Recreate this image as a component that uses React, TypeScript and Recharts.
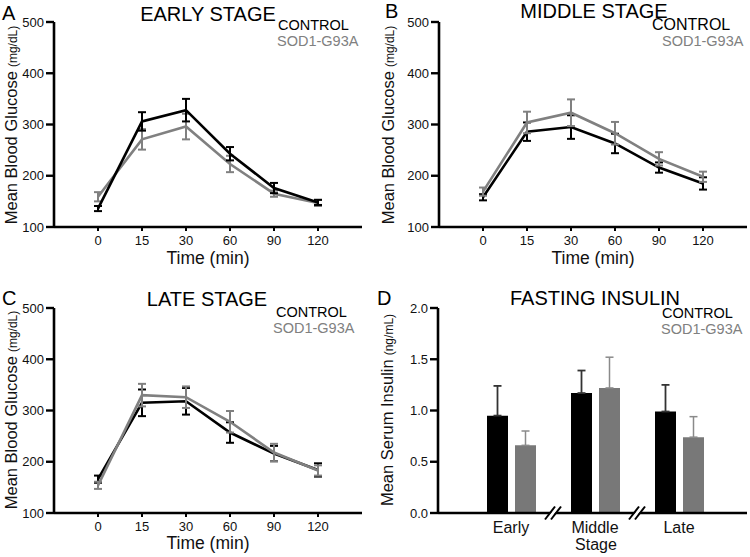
import React from "react";
import { LineChart, Line, XAxis, YAxis, ErrorBar, BarChart, Bar } from "recharts";

const timeLabels = ["0", "15", "30", "60", "90", "120"];

const earlyControl = [136, 306, 328, 243, 176, 148];
const earlyControlErr = [5, 18, 22, 13, 10, 5];
const earlySod = [159, 271, 296, 223, 165, 147];
const earlySodErr = [9, 20, 25, 16, 6, 6];

const middleControl = [158, 286, 295, 263, 216, 185];
const middleControlErr = [6, 18, 23, 19, 10, 12];
const middleSod = [169, 304, 323, 283, 233, 198];
const middleSodErr = [8, 21, 26, 22, 13, 10];

const lateControl = [166, 315, 318, 257, 216, 184];
const lateControlErr = [7, 26, 26, 20, 15, 13];
const lateSod = [154, 330, 326, 278, 218, 183];
const lateSodErr = [7, 22, 21, 21, 17, 10];

const glucoseTicks = [100, 200, 300, 400, 500];

const stages = ["Early", "Middle", "Late"];
const insulinControl = [0.95, 1.17, 0.99];
const insulinControlErr = [0.29, 0.22, 0.26];
const insulinSod = [0.66, 1.22, 0.74];
const insulinSodErr = [0.14, 0.3, 0.2];
const insulinTicks = [0, 0.5, 1.0, 1.5, 2.0];

const FONT = "'Liberation Sans', Arial, Helvetica, sans-serif";
const BLACK = "#000000";
const GRAY = "#808080";

function rows(c: number[], ce: number[], s: number[], se: number[]) {
  return timeLabels.map((t, i) => ({ time: t, control: c[i], controlErr: ce[i], sod: s[i], sodErr: se[i] }));
}

const insulinRows = stages.map((st, i) => ({
  stage: st,
  control: insulinControl[i],
  controlErr: [0, insulinControlErr[i]],
  sod: insulinSod[i],
  sodErr: [0, insulinSodErr[i]],
}));

type GlucoseProps = {
  data: any[];
  left: number;
  top: number;
  height: number;
  marginTop: number;
  yWidth: number;
  marginRight: number;
  sodOnTop: boolean;
};

function GlucoseChart(p: GlucoseProps) {
  const controlLine = (
    <Line
      key="c"
      type="linear"
      dataKey="control"
      stroke={BLACK}
      strokeWidth={2.6}
      dot={false}
      isAnimationActive={false}
    >
      <ErrorBar dataKey="controlErr" width={4} strokeWidth={2} stroke={BLACK} isAnimationActive={false} />
    </Line>
  );
  const sodLine = (
    <Line
      key="s"
      type="linear"
      dataKey="sod"
      stroke={GRAY}
      strokeWidth={2.6}
      dot={false}
      isAnimationActive={false}
    >
      <ErrorBar dataKey="sodErr" width={4} strokeWidth={2} stroke={GRAY} isAnimationActive={false} />
    </Line>
  );
  return (
    <div style={{ position: "absolute", left: p.left, top: p.top }}>
      <LineChart
        width={375}
        height={p.height}
        data={p.data}
        margin={{ top: p.marginTop, right: p.marginRight, bottom: p.height - p.marginTop - 205 - 30, left: 0 }}
      >
        <XAxis
          dataKey="time"
          type="category"
          padding={{ left: 44, right: 44 }}
          height={30}
          axisLine={{ stroke: BLACK, strokeWidth: 2.6 }}
          tickLine={{ stroke: BLACK, strokeWidth: 2 }}
          tickSize={4}
          tickMargin={5}
          tick={{ fill: "#111", fontSize: 13, fontFamily: FONT }}
          interval={0}
        />
        <YAxis
          type="number"
          domain={[100, 500]}
          ticks={glucoseTicks}
          width={p.yWidth}
          axisLine={{ stroke: BLACK, strokeWidth: 2.6 }}
          tickLine={{ stroke: BLACK, strokeWidth: 2.4 }}
          tickSize={8}
          tickMargin={2}
          tick={{ fill: "#111", fontSize: 13, fontFamily: FONT }}
          interval={0}
        />
        {p.sodOnTop ? [controlLine, sodLine] : [sodLine, controlLine]}
      </LineChart>
    </div>
  );
}

function StageTick(props: any) {
  const { x, y, payload, index } = props;
  const off = payload && typeof payload.offset === "number" && payload.offset > 0 ? payload.offset : 42;
  const bx = x - off;
  return (
    <g>
      {index > 0 && (
        <g>
          <polygon points={`${bx - 7},${y + 6} ${bx + 3},${y - 6} ${bx + 7},${y - 6} ${bx - 3},${y + 6}`} fill="#fff" />
          <line x1={bx - 8} y1={y + 6.5} x2={bx + 2} y2={y - 6.5} stroke={BLACK} strokeWidth={2} />
          <line x1={bx - 2} y1={y + 6.5} x2={bx + 8} y2={y - 6.5} stroke={BLACK} strokeWidth={2} />
        </g>
      )}
      <text x={x} y={y + 20} textAnchor="middle" fill="#111" fontSize={16} fontFamily={FONT}>
        {payload.value}
      </text>
    </g>
  );
}

function InsulinChart() {
  return (
    <div style={{ position: "absolute", left: 375, top: 280 }}>
      <BarChart
        width={375}
        height={277}
        data={insulinRows}
        margin={{ top: 28, right: 3, bottom: 277 - 28 - 205 - 30, left: 0 }}
        barSize={21}
        barGap={7}
      >
        <XAxis
          dataKey="stage"
          type="category"
          padding={{ left: 31, right: 26 }}
          height={30}
          axisLine={{ stroke: BLACK, strokeWidth: 2.6 }}
          tickLine={false}
          tickSize={0}
          tickMargin={0}
          tick={<StageTick />}
          interval={0}
        />
        <YAxis
          type="number"
          domain={[0, 2]}
          ticks={insulinTicks}
          tickFormatter={(v: number) => v.toFixed(1)}
          width={63}
          axisLine={{ stroke: BLACK, strokeWidth: 2.6 }}
          tickLine={{ stroke: BLACK, strokeWidth: 2.4 }}
          tickSize={8}
          tickMargin={2}
          tick={{ fill: "#111", fontSize: 13, fontFamily: FONT }}
          interval={0}
        />
        <Bar dataKey="control" fill={BLACK} isAnimationActive={false}>
          <ErrorBar dataKey="controlErr" width={4} strokeWidth={1.8} stroke="#333" isAnimationActive={false} />
        </Bar>
        <Bar dataKey="sod" fill="#787878" isAnimationActive={false}>
          <ErrorBar dataKey="sodErr" width={4} strokeWidth={1.5} stroke="#8a8a8a" isAnimationActive={false} />
        </Bar>
      </BarChart>
    </div>
  );
}

function YLabel(props: { x: number; y: number; main: string; unit: string }) {
  return (
    <text
      x={props.x}
      y={props.y}
      transform={`rotate(-90 ${props.x} ${props.y})`}
      textAnchor="middle"
      fontFamily={FONT}
      fill="#111"
    >
      <tspan fontSize={16.5}>{props.main}</tspan>
      <tspan fontSize={12} dx={4}>{props.unit}</tspan>
    </text>
  );
}

function Overlay() {
  const t = { fontFamily: FONT } as const;
  return (
    <svg width={750} height={557} style={{ position: "absolute", left: 0, top: 0, pointerEvents: "none" }}>
      {/* Panel A */}
      <text x={2} y={20} fontSize={20} fill="#000" {...t}>A</text>
      <text x={208} y={21} fontSize={20} textAnchor="middle" fill="#000" {...t}>EARLY STAGE</text>
      <text x={278} y={29.5} fontSize={14.5} fill="#000" {...t}>CONTROL</text>
      <text x={277} y={45.5} fontSize={14.5} fill={GRAY} {...t}>SOD1-G93A</text>
      <YLabel x={17} y={125} main="Mean Blood Glucose" unit="(mg/dL)" />
      <text x={208} y={264} fontSize={17.5} textAnchor="middle" fill="#111" {...t}>Time (min)</text>

      {/* Panel B */}
      <text x={385} y={18} fontSize={20} fill="#000" {...t}>B</text>
      <text x={594} y={18} fontSize={20} textAnchor="middle" fill="#000" {...t}>MIDDLE STAGE</text>
      <text x={652} y={30} fontSize={16} fill="#000" {...t}>CONTROL</text>
      <text x={662} y={46} fontSize={14.5} fill={GRAY} {...t}>SOD1-G93A</text>
      <YLabel x={394} y={125} main="Mean Blood Glucose" unit="(mg/dL)" />
      <text x={593} y={264} fontSize={17.5} textAnchor="middle" fill="#111" {...t}>Time (min)</text>

      {/* Panel C */}
      <text x={2} y={305} fontSize={20} fill="#000" {...t}>C</text>
      <text x={207} y={306} fontSize={20} textAnchor="middle" fill="#000" {...t}>LATE STAGE</text>
      <text x={276} y={317} fontSize={14.5} fill="#000" {...t}>CONTROL</text>
      <text x={273} y={333} fontSize={14.5} fill={GRAY} {...t}>SOD1-G93A</text>
      <YLabel x={17} y={410} main="Mean Blood Glucose" unit="(mg/dL)" />
      <text x={208} y={549} fontSize={17.5} textAnchor="middle" fill="#111" {...t}>Time (min)</text>

      {/* Panel D */}
      <text x={377} y={305} fontSize={20} fill="#000" {...t}>D</text>
      <text x={595} y={305} fontSize={20} textAnchor="middle" fill="#000" {...t}>FASTING INSULIN</text>
      <text x={662} y={318} fontSize={14.5} fill="#000" {...t}>CONTROL</text>
      <text x={661} y={334} fontSize={14.5} fill={GRAY} {...t}>SOD1-G93A</text>
      <YLabel x={393} y={410} main="Mean Serum Insulin" unit="(ng/mL)" />
      <text x={596} y={550} fontSize={16} textAnchor="middle" fill="#111" {...t}>Stage</text>
    </svg>
  );
}

export default function App() {
  return (
    <div style={{ position: "absolute", left: 0, top: 0, width: 750, height: 557, background: "#fff", overflow: "hidden" }}>
      <GlucoseChart
        data={rows(earlyControl, earlyControlErr, earlySod, earlySodErr)}
        left={0}
        top={0}
        height={280}
        marginTop={22}
        yWidth={54}
        marginRight={13}
        sodOnTop={false}
      />
      <GlucoseChart
        data={rows(middleControl, middleControlErr, middleSod, middleSodErr)}
        left={375}
        top={0}
        height={280}
        marginTop={22}
        yWidth={64}
        marginRight={3}
        sodOnTop={true}
      />
      <GlucoseChart
        data={rows(lateControl, lateControlErr, lateSod, lateSodErr)}
        left={0}
        top={280}
        height={277}
        marginTop={28}
        yWidth={54}
        marginRight={13}
        sodOnTop={true}
      />
      <InsulinChart />
      <Overlay />
    </div>
  );
}
